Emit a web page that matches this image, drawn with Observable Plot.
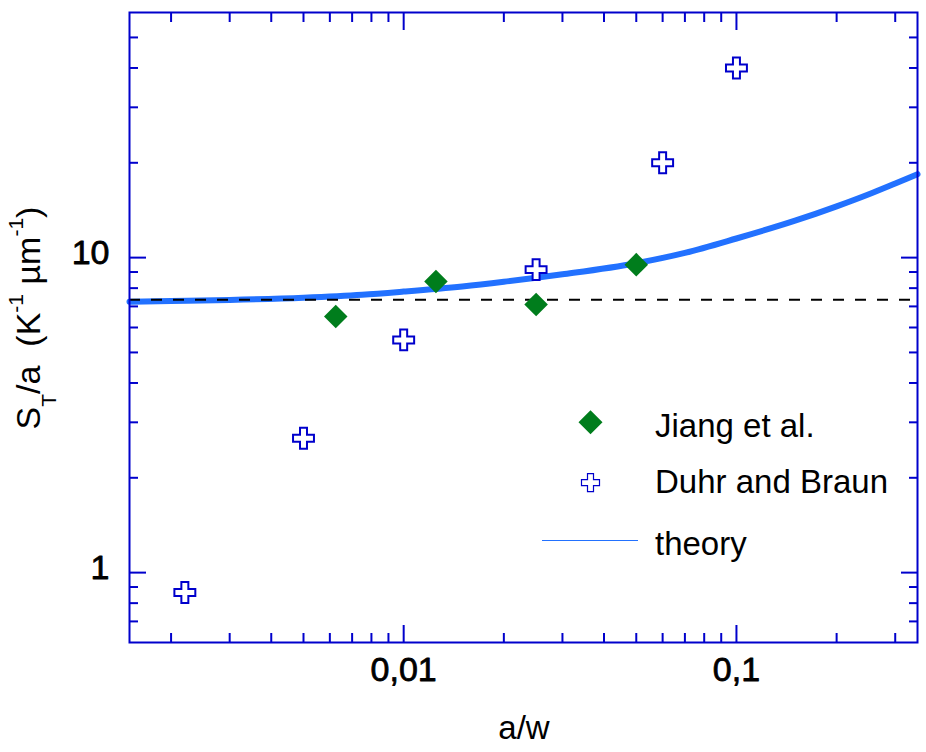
<!DOCTYPE html>
<html><head><meta charset="utf-8">
<script src="https://cdn.jsdelivr.net/npm/d3@7"></script>
<script src="https://cdn.jsdelivr.net/npm/@observablehq/plot@0.6"></script>
<style>
body{margin:0;background:#fff;}
#wrap{position:relative;width:926px;height:752px;}
svg{font-family:"Liberation Sans",Arial,sans-serif;}
</style></head><body><div id="wrap"></div>
<script>
// Data
const jiangX = [0.00625, 0.0125, 0.025, 0.05];
const jiangY = [6.5, 8.4, 7.1, 9.5];
const duhrX = [0.0022, 0.005, 0.01, 0.025, 0.06, 0.1];
const duhrY = [0.865, 2.67, 5.48, 9.16, 20, 40];
const theoryX = [0.0015, 0.002, 0.003, 0.005, 0.0075, 0.01, 0.015, 0.02, 0.03, 0.05, 0.07, 0.1, 0.15, 0.2, 0.25, 0.3, 0.35];
const theoryY = [7.24, 7.28, 7.34, 7.46, 7.62, 7.8, 8.1, 8.38, 8.85, 9.6, 10.35, 11.5, 13.1, 14.55, 15.9, 17.2, 18.4];
const limitY = [7.35];
const xMajor = [0.01, 0.1];
const xLabels = ["0,01", "0,1"];
const xMinor = [0.002, 0.003, 0.004, 0.005, 0.006, 0.007, 0.008, 0.009, 0.02, 0.03, 0.04, 0.05, 0.06, 0.07, 0.08, 0.09, 0.2, 0.3];
const yMajor = [1, 10];
const yLabels = ["1", "10"];
const yMinor = [0.7, 0.8, 0.9, 2, 3, 4, 5, 6, 7, 8, 9, 20, 30, 40, 50];
const seriesNames = ["Jiang et al.", "Duhr and Braun", "theory"];

const axisBlue = "#0000cc";
const curveBlue = "#2271ff";
const green = "#007d1c";

const jiang = jiangX.map((x, i) => ({x, y: jiangY[i]}));
const duhr = duhrX.map((x, i) => ({x, y: duhrY[i]}));
const theory = theoryX.map((x, i) => ({x, y: theoryY[i]}));

const tickOpts = (ticks, anchor, size) => ({ticks, anchor, tickSize: -size, fill: "none", stroke: axisBlue, strokeWidth: 2});

const plot = Plot.plot({
  width: 926,
  height: 752,
  marginLeft: 129,
  marginRight: 9,
  marginTop: 12,
  marginBottom: 110,
  x: {type: "log", domain: [0.0015, 0.35], axis: null},
  y: {type: "log", domain: [0.6, 60], axis: null},
  marks: [
    Plot.line(theory, {x: "x", y: "y", stroke: curveBlue, strokeWidth: 6, curve: "monotone-x"}),
    Plot.ruleY(limitY, {stroke: "black", strokeWidth: 2, strokeDasharray: "11,11"}),
    Plot.dot(jiang, {x: "x", y: "y", symbol: "diamond2", r: 10.6, fill: green, stroke: "none"}),
    Plot.dot(duhr, {x: "x", y: "y", symbol: "cross", r: 8.8, fill: "white", stroke: axisBlue, strokeWidth: 2}),
    Plot.axisX(tickOpts(xMajor, "bottom", 17)),
    Plot.axisX(tickOpts(xMinor, "bottom", 9)),
    Plot.axisX(tickOpts(xMajor, "top", 17)),
    Plot.axisX(tickOpts(xMinor, "top", 9)),
    Plot.axisY(tickOpts(yMajor, "left", 17)),
    Plot.axisY(tickOpts(yMinor, "left", 9)),
    Plot.axisY(tickOpts(yMajor, "right", 17)),
    Plot.axisY(tickOpts(yMinor, "right", 9)),
    Plot.axisX({ticks: xMajor, anchor: "bottom", tickSize: 0, tickPadding: 14, tickFormat: d => xLabels[xMajor.indexOf(d)], fontSize: 34, fill: "black", textStroke: "black", textStrokeWidth: 0.8, label: null}),
    Plot.axisY({ticks: yMajor, anchor: "left", tickSize: 0, tickPadding: 20, tickFormat: d => yLabels[yMajor.indexOf(d)], fontSize: 34, fill: "black", textStroke: "black", textStrokeWidth: 0.8, dy: -5, label: null}),
    Plot.frame({stroke: axisBlue, strokeWidth: 2})
  ]
});
document.getElementById("wrap").appendChild(plot);

const svg = d3.select(plot);
// axis titles
svg.append("text").attr("x", 524).attr("y", 739).attr("text-anchor", "middle")
  .attr("font-size", 33).attr("fill", "black").text("a/w");

const yt = svg.append("text").attr("transform", "translate(40,318) rotate(-90)")
  .attr("text-anchor", "middle").attr("font-size", 34).attr("fill", "black");
yt.append("tspan").text("S");
yt.append("tspan").attr("font-size", 21).attr("dy", 16).text("T");
yt.append("tspan").attr("dy", -16).text("/a\u00a0\u00a0(K");
yt.append("tspan").attr("font-size", 21).attr("dy", -17).text("-1");
yt.append("tspan").attr("dy", 17).text("\u00a0\u00b5m");
yt.append("tspan").attr("font-size", 21).attr("dy", -17).text("-1");
yt.append("tspan").attr("dy", 17).text(")");

// legend
const lg = svg.append("g");
lg.append("path").attr("d", "M590.5,410.3L602.5,422.3L590.5,434.3L578.5,422.3Z").attr("fill", green);
lg.append("path").attr("d", d3.symbol(d3.symbolCross, 180)()).attr("transform", "translate(590.5,482.7)")
  .attr("fill", "white").attr("stroke", axisBlue).attr("stroke-width", 1.2);
lg.append("line").attr("x1", 542).attr("x2", 638).attr("y1", 540.5).attr("y2", 540.5)
  .attr("stroke", curveBlue).attr("stroke-width", 1.2);
const ly = [437, 492.7, 554.5];
seriesNames.forEach((s, i) => {
  lg.append("text").attr("x", 655).attr("y", ly[i]).attr("text-anchor", "start")
    .attr("font-size", 33).attr("fill", "black").text(s);
});
</script></body></html>
